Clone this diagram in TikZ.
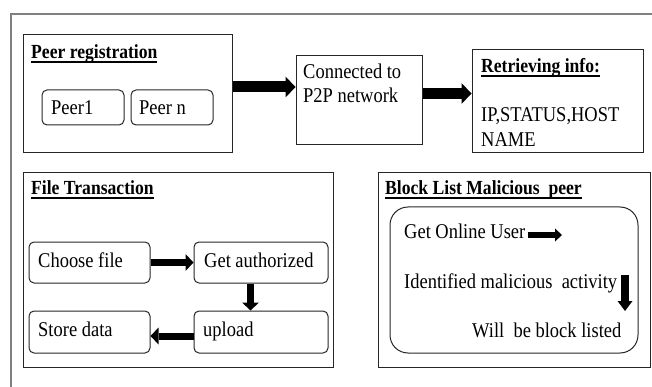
\documentclass[tikz,border=0pt]{standalone}
\usepackage{fontspec}
\setmainfont{Liberation Serif}[FakeStretch=0.88]
\usetikzlibrary{arrows.meta,calc}

% thick underline used for the section titles
\newcommand\thickul[1]{\setbox0\hbox{#1}\rlap{\rule[-3.6pt]{\wd0}{1.6pt}}\box0}

\tikzset{
  box/.style={draw=black!85, line width=1pt, inner sep=0pt},
  pill/.style={box, rounded corners=5pt},
  txt/.style={inner sep=0pt, anchor=base west, font=\fontsize{21}{24}\selectfont},
  ttl/.style={inner sep=0pt, anchor=base west, font=\fontsize{20}{24}\selectfont\bfseries},
  bigarrow/.style={line width=11pt, -{Triangle[width=21pt,length=10pt,line width=0pt]}},
  midarrow/.style={line width=7pt, -{Triangle[width=17pt,length=8pt,line width=0pt]}},
  tinyarrow/.style={line width=6pt, -{Triangle[width=13pt,length=7pt,line width=0pt]}},
  downarrow/.style={line width=8pt, -{Triangle[width=15pt,length=10pt,line width=0pt]}},
}

\begin{document}
\begin{tikzpicture}[x=1pt,y=-1pt]
\useasboundingbox (0,0) rectangle (652,387);

% frame
\draw[gray, line width=1.5pt] (11,387) -- (11,14) -- (652,14);

% ---- peer registration ----
\node[box, minimum width=209pt, minimum height=118pt] (preg) at (127.5,94) {};
\node[ttl] (pregt) at (31,59) {\thickul{Peer registration}};
\node[pill, minimum width=82pt, minimum height=35pt] (peer1) at (83,107.5) {};
\node[txt] (peer1t) at (51,115) {Peer1};
\node[pill, minimum width=82pt, minimum height=35pt] (peern) at (172,107.5) {};
\node[txt] (peernt) at (139,115) {Peer n};

% ---- connected ----
\node[box, minimum width=126pt, minimum height=89pt] (conn) at (359,100.5) {};
\node[txt] (conn1) at (303,79) {Connected to};
\node[txt] (conn2) at (303,103) {P2P network};

% ---- retrieving info ----
\node[box, minimum width=171pt, minimum height=103pt] (ret) at (557.5,101.5) {};
\node[ttl] (rett) at (481,73) {\thickul{Retrieving info:}};
\node[txt] (ret1) at (481,122) {IP,STATUS,HOST};
\node[txt] (ret2) at (481,147) {NAME};

\draw[bigarrow] ([yshift=7pt]preg.east) -- ([yshift=7pt]preg.east -| conn.west);
\draw[bigarrow] ([yshift=7pt]conn.east) -- ([yshift=7pt]conn.east -| ret.west);

% ---- file transaction ----
\node[box, minimum width=310pt, minimum height=194pt] (ftx) at (178,270) {};
\node[ttl] (ftxt) at (31,195) {\thickul{File Transaction}};
\node[pill, minimum width=121pt, minimum height=41pt] (choose) at (89.5,262.5) {};
\node[txt] (chooset) at (38,267) {Choose file};
\node[pill, minimum width=134pt, minimum height=41pt] (getauth) at (261,262.5) {};
\node[txt] (getautht) at (204,267) {Get authorized};
\node[pill, minimum width=121pt, minimum height=42pt] (store) at (89.5,332) {};
\node[txt] (storet) at (38,336) {Store data};
\node[pill, minimum width=134pt, minimum height=42pt] (upload) at (261,332) {};
\node[txt] (uploadt) at (203,336) {upload};

\draw[midarrow] (choose.east) -- (getauth.west);
\draw[midarrow] ([xshift=-10.5pt]getauth.south) -- ([xshift=-10.5pt]upload.north);
\draw[midarrow] ([yshift=-4pt]upload.west) -- ([yshift=-4pt]store.east);

% ---- block list ----
\node[box, minimum width=272pt, minimum height=194pt] (blk) at (514.5,270) {};
\node[ttl] (blkt) at (385,195) {\thickul{Block List Malicious\ \ peer}};
\node[box, rounded corners=18pt, minimum width=248pt, minimum height=146pt] (inner) at (514,280) {};
\node[txt] (gou) at (404,238) {Get Online User};
\coordinate (gouend) at (562,235);
\draw[tinyarrow] ([xshift=2pt]gou.east |- gouend) -- (gouend);
\node[txt] (ima) at (404,288) {Identified malicious\ \ activity};
\coordinate (downtop) at (625,275);
\coordinate (downend) at (625,311);
\draw[downarrow] (downtop) -- (downend);
\node[txt] (wbl) at (472,337) {Will\ \ be block listed};
\end{tikzpicture}
\end{document}
